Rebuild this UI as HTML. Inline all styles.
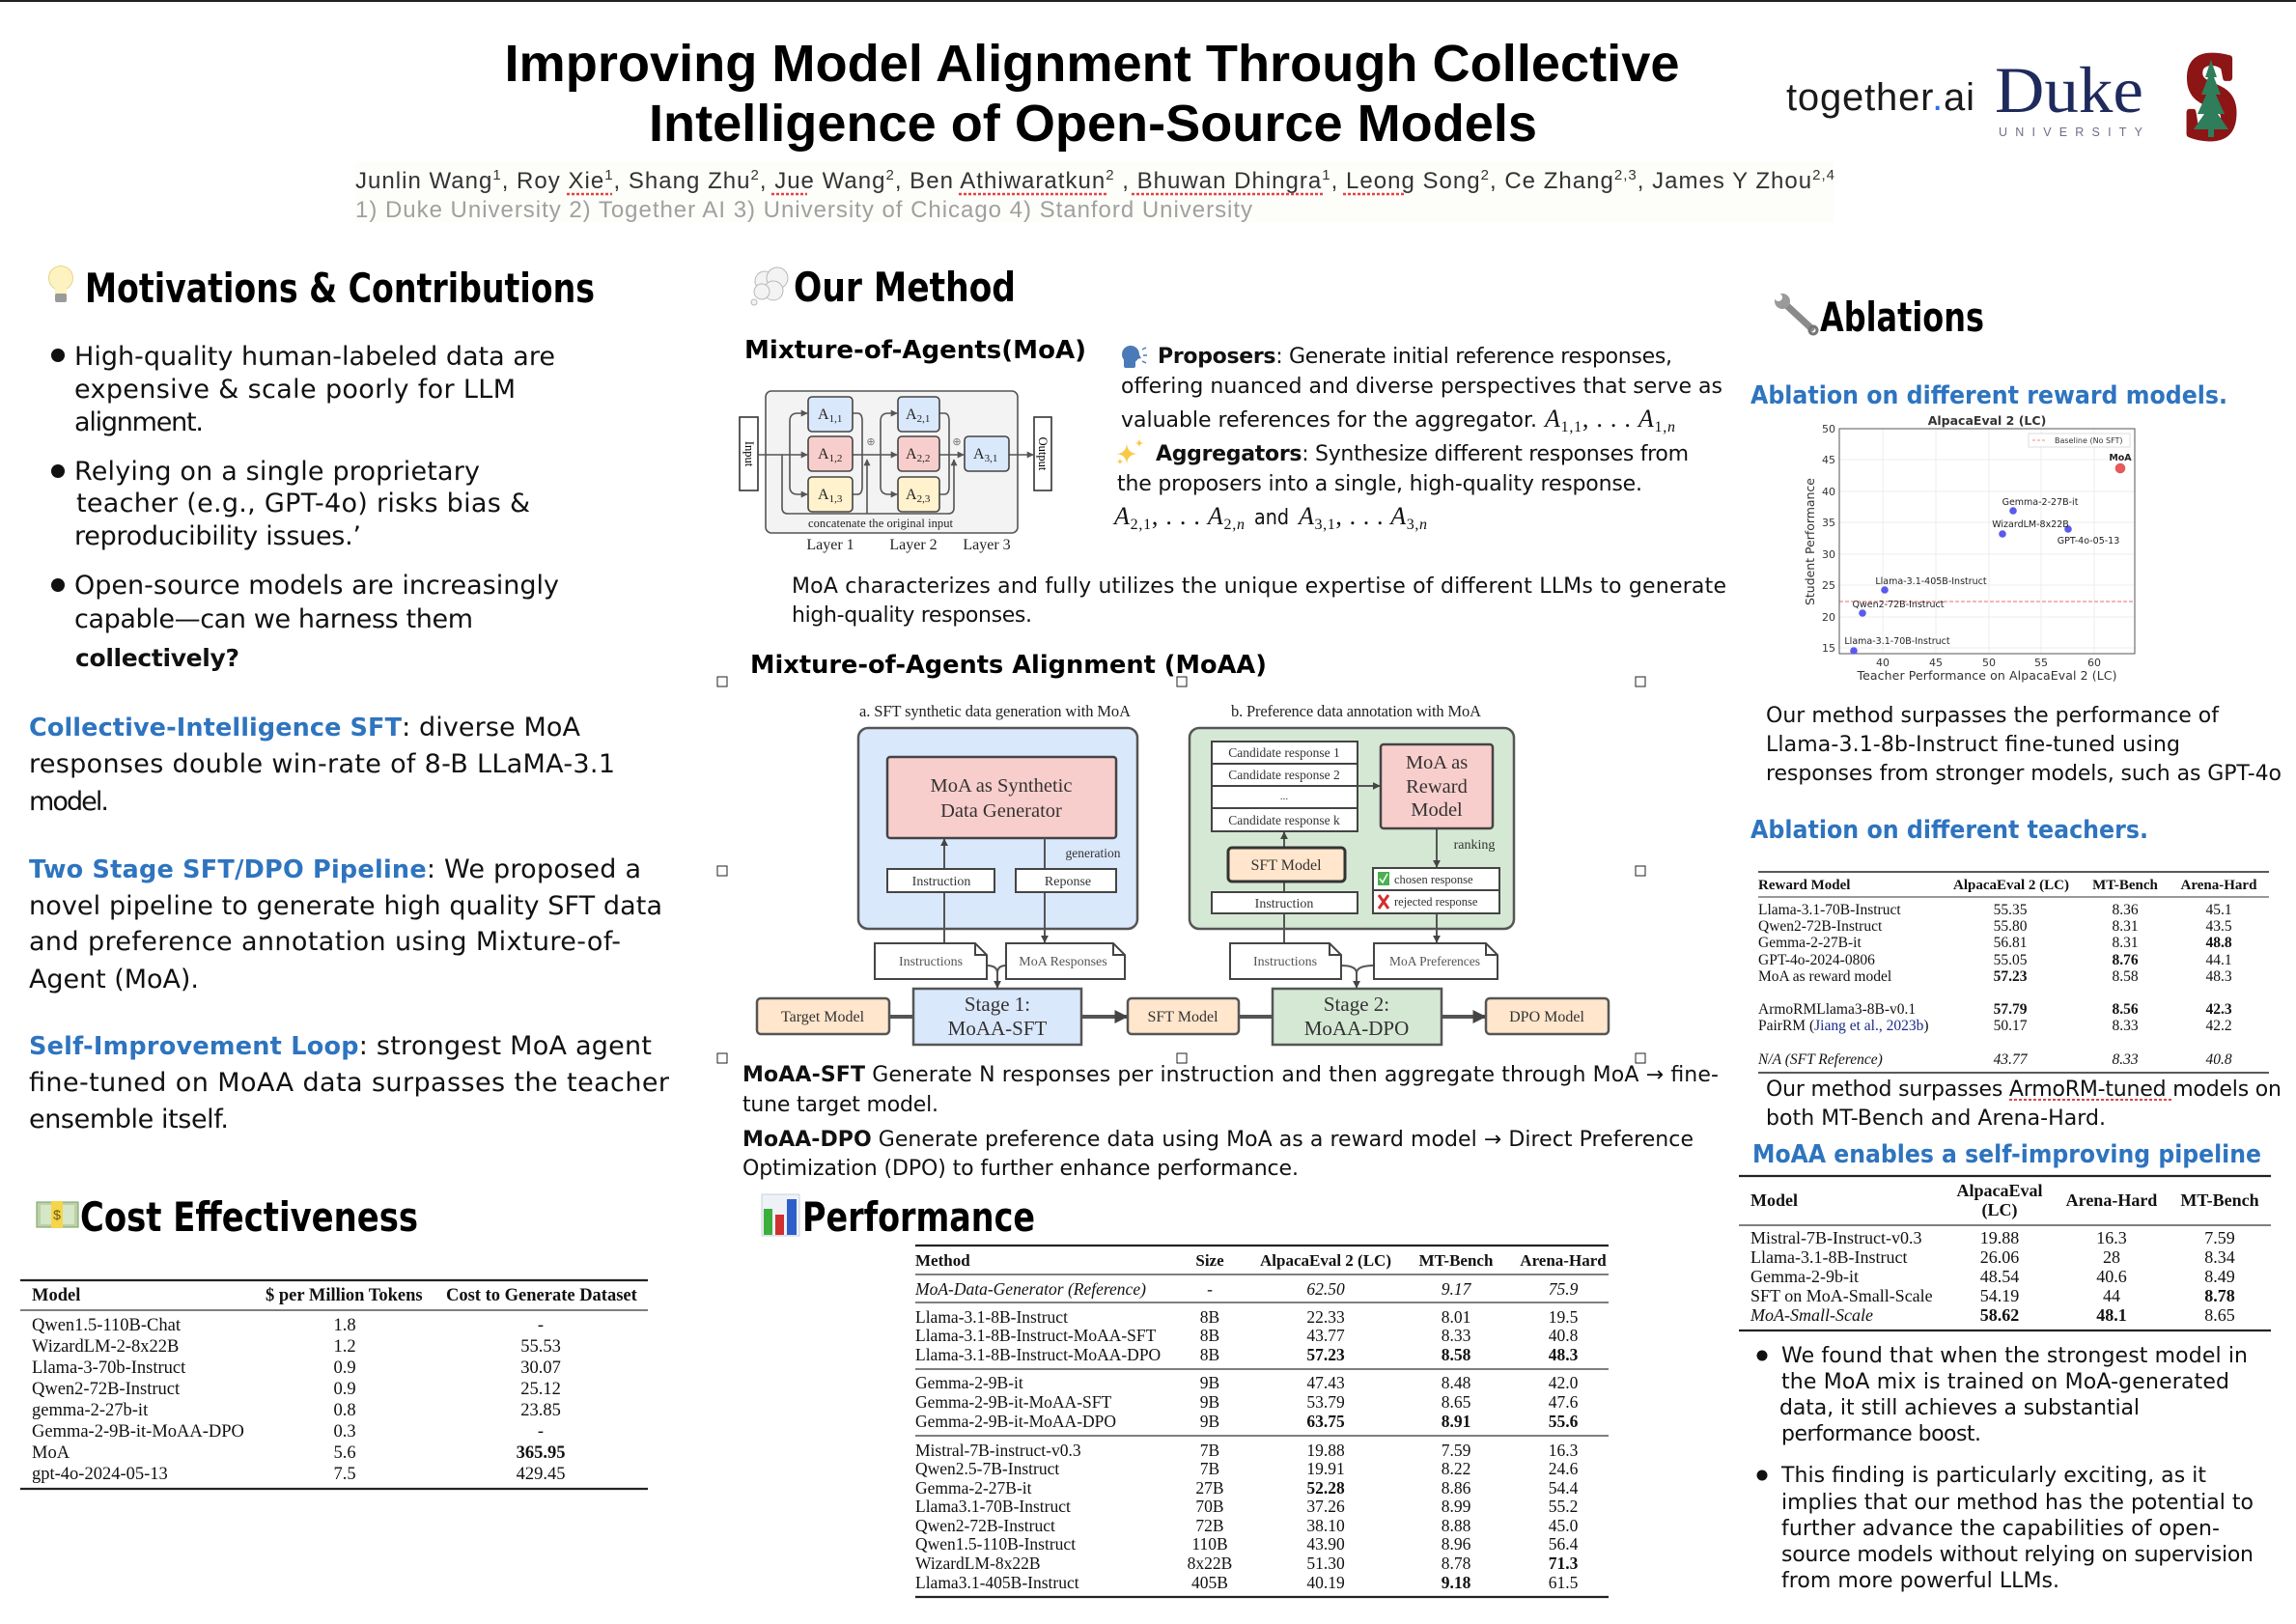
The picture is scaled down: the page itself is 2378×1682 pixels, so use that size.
<!DOCTYPE html>
<html><head><meta charset="utf-8">
<style>
html,body{margin:0;padding:0;background:#fff;}
body{width:2378px;height:1682px;overflow:hidden;position:relative;}
svg{position:absolute;left:0;top:0;}
.c{font-family:"DejaVu Sans",sans-serif;}
.s{font-family:"Liberation Serif",serif;}
.a{font-family:"Liberation Sans",sans-serif;}
</style></head><body>
<svg width="2378" height="1682" viewBox="0 0 2378 1682" xmlns="http://www.w3.org/2000/svg">
<defs>
<marker id="ar" viewBox="0 0 10 10" refX="9" refY="5" markerWidth="8" markerHeight="8" markerUnits="userSpaceOnUse" orient="auto"><path d="M0,0 L10,5 L0,10 z" fill="#444"/></marker>
<marker id="arb" viewBox="0 0 10 10" refX="9" refY="5" markerWidth="14" markerHeight="14" markerUnits="userSpaceOnUse" orient="auto"><path d="M0,0 L10,5 L0,10 z" fill="#444"/></marker>
<marker id="ars" viewBox="0 0 10 10" refX="9" refY="5" markerWidth="7" markerHeight="7" markerUnits="userSpaceOnUse" orient="auto"><path d="M0,0 L10,5 L0,10 z" fill="#555"/></marker>
</defs>

<rect x="0" y="0" width="2378" height="2" fill="#222"/>

<!-- HEADER -->
<rect x="368" y="168" width="1532" height="62" fill="#fdfdfa"/>
<text class="a" font-weight="bold" font-size="54" x="1131" y="84" text-anchor="middle" textLength="1217" lengthAdjust="spacingAndGlyphs">Improving Model Alignment Through Collective</text>
<text class="a" font-weight="bold" font-size="54" x="1132" y="146" text-anchor="middle" textLength="920" lengthAdjust="spacingAndGlyphs">Intelligence of Open-Source Models</text>
<text class="a" x="368" y="195" font-size="24" fill="#333" textLength="1532">Junlin Wang<tspan font-size="15" dy="-9">1</tspan><tspan dy="9">, Roy Xie</tspan><tspan font-size="15" dy="-9">1</tspan><tspan dy="9">, Shang Zhu</tspan><tspan font-size="15" dy="-9">2</tspan><tspan dy="9">, Jue Wang</tspan><tspan font-size="15" dy="-9">2</tspan><tspan dy="9">, Ben Athiwaratkun</tspan><tspan font-size="15" dy="-9">2</tspan><tspan dy="9"> , Bhuwan Dhingra</tspan><tspan font-size="15" dy="-9">1</tspan><tspan dy="9">, Leong Song</tspan><tspan font-size="15" dy="-9">2</tspan><tspan dy="9">, Ce Zhang</tspan><tspan font-size="15" dy="-9">2,3</tspan><tspan dy="9">, James Y Zhou</tspan><tspan font-size="15" dy="-9">2,4</tspan></text>
<g stroke="#e04444" stroke-width="2.5" stroke-dasharray="3,2">
<line x1="587" x2="634" y1="201" y2="201"/><line x1="799" x2="836" y1="201" y2="201"/><line x1="993" x2="1148" y1="201" y2="201"/><line x1="1172" x2="1372" y1="201" y2="201"/><line x1="1391" x2="1456" y1="201" y2="201"/>
</g>
<text class="a" x="368" y="225" font-size="24" fill="#a0a0a0" textLength="929">1) Duke University 2) Together AI 3) University of Chicago 4) Stanford University</text>

<!-- logos -->
<text class="a" x="1850" y="114" font-size="40" fill="#1a1a1a" textLength="195">together<tspan fill="#2f6ff0">.</tspan>ai</text>
<text class="s" x="2066" y="116" font-size="68" fill="#1f2a5c" textLength="154" lengthAdjust="spacingAndGlyphs">Duke</text>
<text class="a" x="2070" y="141" font-size="12.5" fill="#6b7088" textLength="149">UNIVERSITY</text>
<text class="s" font-weight="bold" x="2262" y="142" font-size="126" fill="#8c1515" stroke="#8c1515" stroke-width="7" stroke-linejoin="round" textLength="56" lengthAdjust="spacingAndGlyphs">S</text>
<polygon points="2290,62 2284,80 2287,80 2280,98 2285,98 2276,118 2283,118 2272,134 2287,134 2287,142 2293,142 2293,134 2308,134 2297,118 2304,118 2295,98 2300,98 2293,80 2296,80" fill="#2e7d5b"/>

<!-- LEFT COLUMN -->
<circle cx="63" cy="288" r="12.5" fill="#fdf3c0" stroke="#e6d58a"/>
<rect x="57" y="297" width="12" height="8" fill="#fdf3c0"/>
<rect x="57" y="304" width="12" height="9" rx="2" fill="#9a9a9a"/>
<text class="c" font-weight="bold" font-size="42" x="88" y="313" textLength="528" lengthAdjust="spacingAndGlyphs">Motivations &amp; Contributions</text>

<g class="c" font-size="27" fill="#111">
<circle cx="60" cy="368" r="7" fill="#111"/>
<text x="77" y="378" textLength="498">High-quality human-labeled data are</text>
<text x="77" y="412" textLength="457">expensive &amp; scale poorly for LLM</text>
<text x="77" y="446" textLength="134">alignment.</text>
<circle cx="60" cy="488" r="7" fill="#111"/>
<text x="77" y="497" textLength="420">Relying on a single proprietary</text>
<text x="79" y="530" textLength="470">teacher (e.g., GPT-4o) risks bias &amp;</text>
<text x="77" y="564" textLength="297">reproducibility issues.’</text>
<circle cx="60" cy="606" r="7" fill="#111"/>
<text x="77" y="615" textLength="502">Open-source models are increasingly</text>
<text x="77" y="650" textLength="413">capable—can we harness them</text>
<text x="78" y="690" font-weight="bold" font-size="25" textLength="170">collectively?</text>

<text x="30" y="762" textLength="571"><tspan font-weight="bold" font-size="25.5" fill="#2e74bf">Collective-Intelligence SFT</tspan>: diverse MoA</text>
<text x="30" y="800" textLength="607">responses double win-rate of 8-B LLaMA-3.1</text>
<text x="30" y="839" textLength="83">model.</text>

<text x="30" y="909" textLength="634"><tspan font-weight="bold" font-size="25.5" fill="#2e74bf">Two Stage SFT/DPO Pipeline</tspan>: We proposed a</text>
<text x="30" y="947" textLength="656">novel pipeline to generate high quality SFT data</text>
<text x="30" y="984" textLength="613">and preference annotation using Mixture-of-</text>
<text x="30" y="1023" textLength="176">Agent (MoA).</text>

<text x="30" y="1092" textLength="645"><tspan font-weight="bold" font-size="25.5" fill="#2e74bf">Self-Improvement Loop</tspan>: strongest MoA agent</text>
<text x="30" y="1130" textLength="663">fine-tuned on MoAA data surpasses the teacher</text>
<text x="30" y="1168" textLength="207">ensemble itself.</text>
</g>

<!-- Cost -->
<rect x="38" y="1245" width="43" height="26" fill="#b9d3a6" stroke="#7a9a6a"/>
<rect x="42" y="1248" width="35" height="20" fill="#d6e6c8"/>
<rect x="53" y="1244" width="12" height="28" fill="#f5d54a"/>
<text class="a" x="59" y="1263" font-size="14" text-anchor="middle" fill="#6a5a10">$</text>
<text class="c" font-weight="bold" font-size="42" x="83" y="1275" textLength="350" lengthAdjust="spacingAndGlyphs">Cost Effectiveness</text>

<g class="s" font-size="18.5" fill="#111">
<line x1="21" x2="671" y1="1326" y2="1326" stroke="#222" stroke-width="2.2"/>
<text x="33" y="1347" font-weight="bold">Model</text>
<text x="275" y="1347" font-weight="bold">$ per Million Tokens</text>
<text x="462" y="1347" font-weight="bold">Cost to Generate Dataset</text>
<line x1="21" x2="671" y1="1357" y2="1357" stroke="#333" stroke-width="1.3"/>
<text x="33" y="1378">Qwen1.5-110B-Chat</text><text x="357" y="1378" text-anchor="middle">1.8</text><text x="560" y="1378" text-anchor="middle">-</text>
<text x="33" y="1400">WizardLM-2-8x22B</text><text x="357" y="1400" text-anchor="middle">1.2</text><text x="560" y="1400" text-anchor="middle">55.53</text>
<text x="33" y="1422">Llama-3-70b-Instruct</text><text x="357" y="1422" text-anchor="middle">0.9</text><text x="560" y="1422" text-anchor="middle">30.07</text>
<text x="33" y="1444">Qwen2-72B-Instruct</text><text x="357" y="1444" text-anchor="middle">0.9</text><text x="560" y="1444" text-anchor="middle">25.12</text>
<text x="33" y="1466">gemma-2-27b-it</text><text x="357" y="1466" text-anchor="middle">0.8</text><text x="560" y="1466" text-anchor="middle">23.85</text>
<text x="33" y="1488">Gemma-2-9B-it-MoAA-DPO</text><text x="357" y="1488" text-anchor="middle">0.3</text><text x="560" y="1488" text-anchor="middle">-</text>
<text x="33" y="1510">MoA</text><text x="357" y="1510" text-anchor="middle">5.6</text><text x="560" y="1510" text-anchor="middle" font-weight="bold">365.95</text>
<text x="33" y="1532">gpt-4o-2024-05-13</text><text x="357" y="1532" text-anchor="middle">7.5</text><text x="560" y="1532" text-anchor="middle">429.45</text>
<line x1="21" x2="671" y1="1542" y2="1542" stroke="#222" stroke-width="2.2"/>
</g>

<!-- MIDDLE COLUMN -->
<g fill="#f3f3f3" stroke="#b8b8b8" stroke-width="1">
<circle cx="792" cy="291" r="10"/><circle cx="805" cy="288" r="11"/><circle cx="801" cy="301" r="10"/><circle cx="789" cy="302" r="8"/><circle cx="781" cy="313" r="3"/>
</g>
<text class="c" font-weight="bold" font-size="42" x="822" y="312" textLength="230" lengthAdjust="spacingAndGlyphs">Our Method</text>
<text class="c" font-weight="bold" font-size="26" x="771" y="371" textLength="354" lengthAdjust="spacingAndGlyphs">Mixture-of-Agents(MoA)</text>

<!-- speaking head -->
<g fill="#4a7ab8">
<circle cx="1171" cy="367" r="9"/>
<rect x="1164" y="371" width="12" height="10" rx="2"/>
<polygon points="1178,364 1182,371 1177,372"/>
</g>
<g stroke="#4a7ab8" stroke-width="1.5"><line x1="1183" y1="362" x2="1187" y2="360"/><line x1="1184" y1="368" x2="1188" y2="368"/><line x1="1183" y1="374" x2="1187" y2="376"/></g>
<g class="c" font-size="22" fill="#111">
<text x="1199" y="376" textLength="533"><tspan font-weight="bold">Proposers</tspan>: Generate initial reference responses,</text>
<text x="1161" y="407" textLength="623">offering nuanced and diverse perspectives that serve as</text>
<text x="1161" y="442" textLength="431">valuable references for the aggregator.</text>
<text x="1197" y="477" textLength="552"><tspan font-weight="bold">Aggregators</tspan>: Synthesize different responses from</text>
<text x="1157" y="508" textLength="544">the proposers into a single, high-quality response.</text>
<text x="1299" y="543" textLength="36" lengthAdjust="spacingAndGlyphs">and</text>
<text x="820" y="614" textLength="968">MoA characterizes and fully utilizes the unique expertise of different LLMs to generate</text>
<text x="820" y="644" textLength="249">high-quality responses.</text>
</g>
<g fill="#f7c948">
<path d="M1167,458 Q1167,470 1179,470 Q1167,470 1167,482 Q1167,470 1155,470 Q1167,470 1167,458 Z"/>
<path d="M1180,454 Q1180,459 1185,459 Q1180,459 1180,464 Q1180,459 1175,459 Q1180,459 1180,454 Z"/>
<path d="M1160,474 Q1160,478 1164,478 Q1160,478 1160,482 Q1160,478 1156,478 Q1160,478 1160,474 Z"/>
</g>
<g class="s" font-size="26" fill="#111">
<text x="1600" y="442" textLength="135"><tspan font-style="italic">A</tspan><tspan font-size="16" dy="5">1,1</tspan><tspan dy="-5">, . . . </tspan><tspan font-style="italic">A</tspan><tspan font-size="16" dy="5">1,</tspan><tspan font-size="16" font-style="italic">n</tspan></text>
<text x="1154" y="543" textLength="135"><tspan font-style="italic">A</tspan><tspan font-size="16" dy="5">2,1</tspan><tspan dy="-5">, . . . </tspan><tspan font-style="italic">A</tspan><tspan font-size="16" dy="5">2,</tspan><tspan font-size="16" font-style="italic">n</tspan></text>
<text x="1345" y="543" textLength="133"><tspan font-style="italic">A</tspan><tspan font-size="16" dy="5">3,1</tspan><tspan dy="-5">, . . . </tspan><tspan font-style="italic">A</tspan><tspan font-size="16" dy="5">3,</tspan><tspan font-size="16" font-style="italic">n</tspan></text>
</g>

<!-- small MoA diagram -->
<rect x="793" y="405" width="261" height="147" rx="6" fill="#f3f3f3" stroke="#555" stroke-width="1.6"/>
<rect x="766" y="432" width="19" height="76" fill="#fff" stroke="#333" stroke-width="1.6"/>
<rect x="1071" y="432" width="18" height="76" fill="#fff" stroke="#333" stroke-width="1.6"/>
<text class="s" font-size="12.5" text-anchor="middle" transform="translate(772,470) rotate(90)">Input</text>
<text class="s" font-size="12.5" text-anchor="middle" transform="translate(1076,470) rotate(90)">Output</text>
<g stroke="#555" stroke-width="1.6" fill="none">
<line x1="785" y1="471" x2="836" y2="471" marker-end="url(#ars)"/>
<path d="M818,471 V436 Q818,428 826,428 H836" marker-end="url(#ars)"/>
<path d="M818,471 V504 Q818,512 826,512 H836" marker-end="url(#ars)"/>
<path d="M810,471 V526 Q810,532 816,532 H982 Q988,532 988,526 V476" marker-end="url(#ars)"/>
<line x1="898" y1="532" x2="898" y2="476" marker-end="url(#ars)"/>
<path d="M883,428 H888 Q893,428 893,436 V504 Q893,512 888,512 H883"/>
<line x1="883" y1="471" x2="929" y2="471" marker-end="url(#ars)"/>
<path d="M912,471 V436 Q912,428 920,428 H929" marker-end="url(#ars)"/>
<path d="M912,471 V504 Q912,512 920,512 H929" marker-end="url(#ars)"/>
<path d="M973,428 H978 Q983,428 983,436 V504 Q983,512 978,512 H973"/>
<line x1="973" y1="471" x2="998" y2="471" marker-end="url(#ars)"/>
<line x1="1045" y1="471" x2="1070" y2="471" marker-end="url(#ars)"/>
</g>
<g stroke="#444" stroke-width="1.6">
<rect x="837" y="411" width="46" height="36" rx="4" fill="#dae8fc"/>
<rect x="837" y="452" width="46" height="36" rx="4" fill="#f8cecc"/>
<rect x="837" y="494" width="46" height="36" rx="4" fill="#fff2cc"/>
<rect x="930" y="411" width="43" height="36" rx="4" fill="#dae8fc"/>
<rect x="930" y="452" width="43" height="36" rx="4" fill="#f8cecc"/>
<rect x="930" y="494" width="43" height="36" rx="4" fill="#fff2cc"/>
<rect x="999" y="452" width="46" height="36" rx="4" fill="#dae8fc"/>
</g>
<g class="s" font-size="16" fill="#222">
<text x="847" y="434">A<tspan font-size="11" dy="3">1,1</tspan></text>
<text x="847" y="475">A<tspan font-size="11" dy="3">1,2</tspan></text>
<text x="847" y="517">A<tspan font-size="11" dy="3">1,3</tspan></text>
<text x="938" y="434">A<tspan font-size="11" dy="3">2,1</tspan></text>
<text x="938" y="475">A<tspan font-size="11" dy="3">2,2</tspan></text>
<text x="938" y="517">A<tspan font-size="11" dy="3">2,3</tspan></text>
<text x="1008" y="475">A<tspan font-size="11" dy="3">3,1</tspan></text>
<text x="902" y="461" font-size="11" text-anchor="middle" fill="#777">⊕</text>
<text x="991" y="461" font-size="11" text-anchor="middle" fill="#777">⊕</text>
<text x="912" y="546" font-size="12.5" text-anchor="middle" textLength="150">concatenate the original input</text>
<text x="860" y="569" text-anchor="middle">Layer 1</text>
<text x="946" y="569" text-anchor="middle">Layer 2</text>
<text x="1022" y="569" text-anchor="middle">Layer 3</text>
</g>

<!-- MoAA -->
<text class="c" font-weight="bold" font-size="26" x="777" y="697" textLength="535" lengthAdjust="spacingAndGlyphs">Mixture-of-Agents Alignment (MoAA)</text>
<g fill="#fff" stroke="#222" stroke-width="1">
<rect x="743" y="701" width="10" height="10"/><rect x="1219" y="701" width="10" height="10"/><rect x="1694" y="701" width="10" height="10"/>
<rect x="743" y="897" width="10" height="10"/><rect x="1694" y="897" width="10" height="10"/>
<rect x="743" y="1091" width="10" height="10"/><rect x="1219" y="1091" width="10" height="10"/><rect x="1694" y="1091" width="10" height="10"/>
</g>

<g class="s" fill="#222">
<text x="890" y="742" font-size="16.5" textLength="281">a. SFT synthetic data generation with MoA</text>
<text x="1275" y="742" font-size="16.5" textLength="259">b. Preference data annotation with MoA</text>
</g>
<rect x="889" y="754" width="289" height="208" rx="10" fill="#dae8fc" stroke="#555" stroke-width="2.5"/>
<rect x="1232" y="754" width="336" height="208" rx="10" fill="#d5e8d4" stroke="#555" stroke-width="2.5"/>
<rect x="919" y="784" width="237" height="84" rx="3" fill="#f8cecc" stroke="#444" stroke-width="2.5"/>
<!-- lines (behind boxes) -->
<g stroke="#555" stroke-width="2" fill="none">
<line x1="978" y1="900" x2="978" y2="869" marker-end="url(#ar)"/>
<line x1="978" y1="924" x2="978" y2="977"/>
<line x1="1082" y1="868" x2="1082" y2="900"/>
<line x1="1082" y1="924" x2="1082" y2="976" marker-end="url(#ar)"/>
<line x1="1406" y1="814" x2="1429" y2="814" marker-end="url(#ar)"/>
<line x1="1488" y1="858" x2="1488" y2="898" marker-end="url(#ar)"/>
<line x1="1330" y1="878" x2="1330" y2="862" marker-end="url(#ar)"/>
<line x1="1330" y1="913" x2="1330" y2="924"/>
<line x1="1330" y1="946" x2="1330" y2="977"/>
<line x1="1488" y1="946" x2="1488" y2="976" marker-end="url(#ar)"/>
<path d="M1022,1000 Q1033,1000 1033,1008 M1042,1000 Q1033,1000 1033,1008"/>
<line x1="1033" y1="1008" x2="1033" y2="1023" marker-end="url(#ar)"/>
<path d="M1389,1000 Q1405,1000 1405,1008 M1423,1000 Q1405,1000 1405,1008"/>
<line x1="1405" y1="1008" x2="1405" y2="1023" marker-end="url(#ar)"/>
</g>
<g stroke="#444" stroke-width="2" fill="#fff">
<rect x="919" y="900" width="111" height="24"/>
<rect x="1052" y="900" width="104" height="24"/>
<rect x="1255" y="768" width="151" height="23"/>
<rect x="1255" y="791" width="151" height="23"/>
<rect x="1255" y="814" width="151" height="23"/>
<rect x="1255" y="837" width="151" height="24"/>
<rect x="1255" y="924" width="151" height="22"/>
<rect x="1422" y="899" width="131" height="23"/>
<rect x="1422" y="922" width="131" height="24"/>
</g>
<rect x="1430" y="771" width="116" height="87" rx="3" fill="#f8cecc" stroke="#444" stroke-width="2.5"/>
<rect x="1272" y="878" width="121" height="35" rx="4" fill="#ffe6cc" stroke="#333" stroke-width="3"/>
<g stroke="#555" stroke-width="4" fill="none">
<line x1="921" y1="1053" x2="946" y2="1053"/>
<line x1="1120" y1="1053" x2="1167" y2="1053" marker-end="url(#arb)"/>
<line x1="1283" y1="1053" x2="1318" y2="1053"/>
<line x1="1493" y1="1053" x2="1538" y2="1053" marker-end="url(#arb)"/>
</g>
<!-- docs -->
<g stroke="#444" stroke-width="2" fill="#fff">
<path d="M906,977 H1010 L1022,989 V1014 H906 Z"/><path d="M1010,977 V989 H1022" fill="none"/>
<path d="M1042,977 H1153 L1165,989 V1014 H1042 Z"/><path d="M1153,977 V989 H1165" fill="none"/>
<path d="M1274,977 H1377 L1389,989 V1014 H1274 Z"/><path d="M1377,977 V989 H1389" fill="none"/>
<path d="M1423,977 H1539 L1551,989 V1014 H1423 Z"/><path d="M1539,977 V989 H1551" fill="none"/>
</g>
<g stroke="#555" stroke-width="2.5">
<rect x="946" y="1024" width="174" height="58" fill="#dae8fc"/>
<rect x="1318" y="1024" width="175" height="58" fill="#d5e8d4"/>
<rect x="784" y="1034" width="137" height="37" rx="4" fill="#ffe6cc"/>
<rect x="1168" y="1034" width="115" height="37" rx="4" fill="#ffe6cc"/>
<rect x="1539" y="1034" width="127" height="37" rx="4" fill="#ffe6cc"/>
</g>
<rect x="1427" y="903" width="12" height="14" fill="#4caf50"/>
<path d="M1429,910 L1432,914 L1437,905" stroke="#fff" stroke-width="1.5" fill="none"/>
<path d="M1428,927 L1438,941 M1438,927 L1428,941" stroke="#d32f2f" stroke-width="3"/>
<g class="s" fill="#333" text-anchor="middle">
<text x="1037" y="820" font-size="20.5">MoA as Synthetic</text>
<text x="1037" y="846" font-size="20.5">Data Generator</text>
<text x="1132" y="888" font-size="13.5">generation</text>
<text x="975" y="917" font-size="14">Instruction</text>
<text x="1106" y="917" font-size="14">Reponse</text>
<text x="964" y="1000" font-size="14" fill="#555">Instructions</text>
<text x="1101" y="1000" font-size="14" fill="#555">MoA Responses</text>
<text x="1033" y="1047" font-size="21">Stage 1:</text>
<text x="1033" y="1072" font-size="21">MoAA-SFT</text>
<text x="852" y="1058" font-size="16">Target Model</text>
<text x="1225" y="1058" font-size="16">SFT Model</text>
<text x="1405" y="1047" font-size="21">Stage 2:</text>
<text x="1405" y="1072" font-size="21">MoAA-DPO</text>
<text x="1602" y="1058" font-size="16">DPO Model</text>
<text x="1330" y="784" font-size="13.5">Candidate response 1</text>
<text x="1330" y="807" font-size="13.5">Candidate response 2</text>
<text x="1330" y="828" font-size="11">...</text>
<text x="1330" y="854" font-size="13.5">Candidate response k</text>
<text x="1488" y="796" font-size="20.5">MoA as</text>
<text x="1488" y="821" font-size="20.5">Reward</text>
<text x="1488" y="845" font-size="20.5">Model</text>
<text x="1527" y="879" font-size="14">ranking</text>
<text x="1332" y="901" font-size="16">SFT Model</text>
<text x="1330" y="940" font-size="14">Instruction</text>
<text x="1331" y="1000" font-size="14" fill="#555">Instructions</text>
<text x="1486" y="1000" font-size="13.5" fill="#555">MoA Preferences</text>
</g>
<g class="s" fill="#333" font-size="12.5">
<text x="1444" y="915">chosen response</text>
<text x="1444" y="938">rejected response</text>
</g>

<g class="c" font-size="22" fill="#111">
<text x="769" y="1120" textLength="1011"><tspan font-weight="bold">MoAA-SFT</tspan> Generate N responses per instruction and then aggregate through MoA → fine-</text>
<text x="769" y="1151" textLength="203">tune target model.</text>
<text x="769" y="1187" textLength="985"><tspan font-weight="bold">MoAA-DPO</tspan> Generate preference data using MoA as a reward model → Direct Preference</text>
<text x="769" y="1217" textLength="576">Optimization (DPO) to further enhance performance.</text>
</g>

<!-- Performance -->
<rect x="789" y="1237" width="39" height="43" fill="#eef2f7" stroke="#c8d0dc"/>
<rect x="791" y="1252" width="9" height="27" fill="#3cae3c"/>
<rect x="803" y="1258" width="9" height="21" fill="#d03030"/>
<rect x="815" y="1242" width="10" height="37" fill="#2d5fc8"/>
<text class="c" font-weight="bold" font-size="42" x="831" y="1275" textLength="241" lengthAdjust="spacingAndGlyphs">Performance</text>

<g class="s" font-size="17.5" fill="#111">
<line x1="948" x2="1666" y1="1290" y2="1290" stroke="#222" stroke-width="2.2"/>
<g font-weight="bold" font-size="17">
<text x="948" y="1311">Method</text>
<text x="1253" y="1311" text-anchor="middle">Size</text>
<text x="1373" y="1311" text-anchor="middle">AlpacaEval 2 (LC)</text>
<text x="1508" y="1311" text-anchor="middle">MT-Bench</text>
<text x="1619" y="1311" text-anchor="middle">Arena-Hard</text>
</g>
<line x1="948" x2="1666" y1="1320" y2="1320" stroke="#333" stroke-width="1.3"/>
<g font-style="italic"><text x="948" y="1341">MoA-Data-Generator (Reference)</text><text x="1253" y="1341" text-anchor="middle">-</text><text x="1373" y="1341" text-anchor="middle">62.50</text><text x="1508" y="1341" text-anchor="middle">9.17</text><text x="1619" y="1341" text-anchor="middle">75.9</text></g>
<line x1="948" x2="1666" y1="1349" y2="1349" stroke="#333" stroke-width="1.3"/>
<text x="948" y="1370">Llama-3.1-8B-Instruct</text><text x="1253" y="1370" text-anchor="middle">8B</text><text x="1373" y="1370" text-anchor="middle">22.33</text><text x="1508" y="1370" text-anchor="middle">8.01</text><text x="1619" y="1370" text-anchor="middle">19.5</text>
<text x="948" y="1389">Llama-3.1-8B-Instruct-MoAA-SFT</text><text x="1253" y="1389" text-anchor="middle">8B</text><text x="1373" y="1389" text-anchor="middle">43.77</text><text x="1508" y="1389" text-anchor="middle">8.33</text><text x="1619" y="1389" text-anchor="middle">40.8</text>
<text x="948" y="1409">Llama-3.1-8B-Instruct-MoAA-DPO</text><text x="1253" y="1409" text-anchor="middle">8B</text><text x="1373" y="1409" text-anchor="middle" font-weight="bold">57.23</text><text x="1508" y="1409" text-anchor="middle" font-weight="bold">8.58</text><text x="1619" y="1409" text-anchor="middle" font-weight="bold">48.3</text>
<line x1="948" x2="1666" y1="1418" y2="1418" stroke="#333" stroke-width="1.3"/>
<text x="948" y="1438">Gemma-2-9B-it</text><text x="1253" y="1438" text-anchor="middle">9B</text><text x="1373" y="1438" text-anchor="middle">47.43</text><text x="1508" y="1438" text-anchor="middle">8.48</text><text x="1619" y="1438" text-anchor="middle">42.0</text>
<text x="948" y="1458">Gemma-2-9B-it-MoAA-SFT</text><text x="1253" y="1458" text-anchor="middle">9B</text><text x="1373" y="1458" text-anchor="middle">53.79</text><text x="1508" y="1458" text-anchor="middle">8.65</text><text x="1619" y="1458" text-anchor="middle">47.6</text>
<text x="948" y="1478">Gemma-2-9B-it-MoAA-DPO</text><text x="1253" y="1478" text-anchor="middle">9B</text><text x="1373" y="1478" text-anchor="middle" font-weight="bold">63.75</text><text x="1508" y="1478" text-anchor="middle" font-weight="bold">8.91</text><text x="1619" y="1478" text-anchor="middle" font-weight="bold">55.6</text>
<line x1="948" x2="1666" y1="1487" y2="1487" stroke="#333" stroke-width="1.3"/>
<text x="948" y="1508">Mistral-7B-instruct-v0.3</text><text x="1253" y="1508" text-anchor="middle">7B</text><text x="1373" y="1508" text-anchor="middle">19.88</text><text x="1508" y="1508" text-anchor="middle">7.59</text><text x="1619" y="1508" text-anchor="middle">16.3</text>
<text x="948" y="1527">Qwen2.5-7B-Instruct</text><text x="1253" y="1527" text-anchor="middle">7B</text><text x="1373" y="1527" text-anchor="middle">19.91</text><text x="1508" y="1527" text-anchor="middle">8.22</text><text x="1619" y="1527" text-anchor="middle">24.6</text>
<text x="948" y="1547">Gemma-2-27B-it</text><text x="1253" y="1547" text-anchor="middle">27B</text><text x="1373" y="1547" text-anchor="middle" font-weight="bold">52.28</text><text x="1508" y="1547" text-anchor="middle">8.86</text><text x="1619" y="1547" text-anchor="middle">54.4</text>
<text x="948" y="1566">Llama3.1-70B-Instruct</text><text x="1253" y="1566" text-anchor="middle">70B</text><text x="1373" y="1566" text-anchor="middle">37.26</text><text x="1508" y="1566" text-anchor="middle">8.99</text><text x="1619" y="1566" text-anchor="middle">55.2</text>
<text x="948" y="1586">Qwen2-72B-Instruct</text><text x="1253" y="1586" text-anchor="middle">72B</text><text x="1373" y="1586" text-anchor="middle">38.10</text><text x="1508" y="1586" text-anchor="middle">8.88</text><text x="1619" y="1586" text-anchor="middle">45.0</text>
<text x="948" y="1605">Qwen1.5-110B-Instruct</text><text x="1253" y="1605" text-anchor="middle">110B</text><text x="1373" y="1605" text-anchor="middle">43.90</text><text x="1508" y="1605" text-anchor="middle">8.96</text><text x="1619" y="1605" text-anchor="middle">56.4</text>
<text x="948" y="1625">WizardLM-8x22B</text><text x="1253" y="1625" text-anchor="middle">8x22B</text><text x="1373" y="1625" text-anchor="middle">51.30</text><text x="1508" y="1625" text-anchor="middle">8.78</text><text x="1619" y="1625" text-anchor="middle" font-weight="bold">71.3</text>
<text x="948" y="1645">Llama3.1-405B-Instruct</text><text x="1253" y="1645" text-anchor="middle">405B</text><text x="1373" y="1645" text-anchor="middle">40.19</text><text x="1508" y="1645" text-anchor="middle" font-weight="bold">9.18</text><text x="1619" y="1645" text-anchor="middle">61.5</text>
<line x1="948" x2="1666" y1="1654" y2="1654" stroke="#222" stroke-width="2.2"/>
</g>

<!-- RIGHT COLUMN -->
<g>
<line x1="1848" y1="314" x2="1876" y2="340" stroke="#8a8a8a" stroke-width="7" stroke-linecap="round"/>
<circle cx="1846" cy="312" r="8" fill="#9a9a9a"/>
<circle cx="1842" cy="308" r="4" fill="#fff"/>
<circle cx="1878" cy="342" r="4" fill="none" stroke="#777" stroke-width="3"/>
</g>
<text class="c" font-weight="bold" font-size="42" x="1885" y="343" textLength="170" lengthAdjust="spacingAndGlyphs">Ablations</text>
<text class="c" font-weight="bold" font-size="26" x="1813" y="418" fill="#2e74bf" textLength="494" lengthAdjust="spacingAndGlyphs">Ablation on different reward models.</text>

<!-- chart -->
<g stroke="#ececec" stroke-width="1">
<line x1="1950" x2="1950" y1="444" y2="677"/><line x1="2005" x2="2005" y1="444" y2="677"/><line x1="2060" x2="2060" y1="444" y2="677"/><line x1="2114" x2="2114" y1="444" y2="677"/><line x1="2169" x2="2169" y1="444" y2="677"/>
<line x1="1905" x2="2211" y1="476" y2="476"/><line x1="1905" x2="2211" y1="509" y2="509"/><line x1="1905" x2="2211" y1="541" y2="541"/><line x1="1905" x2="2211" y1="574" y2="574"/><line x1="1905" x2="2211" y1="606" y2="606"/><line x1="1905" x2="2211" y1="639" y2="639"/><line x1="1905" x2="2211" y1="671" y2="671"/>
</g>
<line x1="1905" x2="2211" y1="623" y2="623" stroke="#f08a8a" stroke-width="1.2" stroke-dasharray="4,2"/>
<rect x="1905" y="444" width="306" height="233" fill="none" stroke="#555" stroke-width="1"/>
<g class="c" font-size="11" fill="#333" text-anchor="end">
<text x="1901" y="448">50</text><text x="1901" y="480">45</text><text x="1901" y="513">40</text><text x="1901" y="545">35</text><text x="1901" y="578">30</text><text x="1901" y="610">25</text><text x="1901" y="643">20</text><text x="1901" y="675">15</text>
</g>
<g class="c" font-size="11" fill="#333" text-anchor="middle">
<text x="1950" y="690">40</text><text x="2005" y="690">45</text><text x="2060" y="690">50</text><text x="2114" y="690">55</text><text x="2169" y="690">60</text>
<text x="2058" y="704" font-size="12.5" textLength="269">Teacher Performance on AlpacaEval 2 (LC)</text>
<text x="2058" y="440" font-size="12.5" font-weight="bold">AlpacaEval 2 (LC)</text>
<text transform="translate(1879,561) rotate(-90)" font-size="12.5" textLength="132">Student Performance</text>
</g>
<rect x="2101" y="449" width="105" height="14" fill="#fff" stroke="#ddd"/>
<line x1="2105" x2="2120" y1="456" y2="456" stroke="#f08a8a" stroke-width="1" stroke-dasharray="3,2"/>
<text class="c" x="2128" y="459" font-size="8" fill="#333">Baseline (No SFT)</text>
<g fill="#5a5af0">
<circle cx="2085" cy="529" r="3.8"/><circle cx="2074" cy="553" r="3.8"/><circle cx="2142" cy="548" r="3.8"/><circle cx="1952" cy="611" r="3.8"/><circle cx="1929" cy="635" r="3.8"/><circle cx="1920" cy="674" r="3.8"/>
</g>
<circle cx="2196" cy="485" r="5.3" fill="#e55a5a"/>
<g class="c" font-size="9.5" fill="#222" text-anchor="middle">
<text x="2196" y="477" font-weight="bold">MoA</text>
<text x="2113" y="523">Gemma-2-27B-it</text>
<text x="2103" y="546">WizardLM-8x22B</text>
<text x="2163" y="563">GPT-4o-05-13</text>
<text x="2000" y="605">Llama-3.1-405B-Instruct</text>
<text x="1966" y="629">Qwen2-72B-Instruct</text>
<text x="1965" y="667">Llama-3.1-70B-Instruct</text>
</g>

<g class="c" font-size="22" fill="#111">
<text x="1829" y="748" textLength="469">Our method surpasses the performance of</text>
<text x="1829" y="778" textLength="429">Llama-3.1-8b-Instruct fine-tuned using</text>
<text x="1829" y="808" textLength="534">responses from stronger models, such as GPT-4o</text>
</g>
<text class="c" font-weight="bold" font-size="26" x="1813" y="868" fill="#2e74bf" textLength="412" lengthAdjust="spacingAndGlyphs">Ablation on different teachers.</text>

<g class="s" font-size="15.5" fill="#111">
<line x1="1821" x2="2350" y1="903" y2="903" stroke="#222" stroke-width="1.6"/>
<g font-weight="bold" font-size="15">
<text x="1821" y="921">Reward Model</text>
<text x="2083" y="921" text-anchor="middle">AlpacaEval 2 (LC)</text>
<text x="2201" y="921" text-anchor="middle">MT-Bench</text>
<text x="2298" y="921" text-anchor="middle">Arena-Hard</text>
</g>
<line x1="1821" x2="2350" y1="929" y2="929" stroke="#333" stroke-width="1"/>
<text x="1821" y="947">Llama-3.1-70B-Instruct</text><text x="2082" y="947" text-anchor="middle">55.35</text><text x="2201" y="947" text-anchor="middle">8.36</text><text x="2298" y="947" text-anchor="middle">45.1</text>
<text x="1821" y="964">Qwen2-72B-Instruct</text><text x="2082" y="964" text-anchor="middle">55.80</text><text x="2201" y="964" text-anchor="middle">8.31</text><text x="2298" y="964" text-anchor="middle">43.5</text>
<text x="1821" y="981">Gemma-2-27B-it</text><text x="2082" y="981" text-anchor="middle">56.81</text><text x="2201" y="981" text-anchor="middle">8.31</text><text x="2298" y="981" text-anchor="middle" font-weight="bold">48.8</text>
<text x="1821" y="999">GPT-4o-2024-0806</text><text x="2082" y="999" text-anchor="middle">55.05</text><text x="2201" y="999" text-anchor="middle" font-weight="bold">8.76</text><text x="2298" y="999" text-anchor="middle">44.1</text>
<text x="1821" y="1016">MoA as reward model</text><text x="2082" y="1016" text-anchor="middle" font-weight="bold">57.23</text><text x="2201" y="1016" text-anchor="middle">8.58</text><text x="2298" y="1016" text-anchor="middle">48.3</text>
<text x="1821" y="1050">ArmoRMLlama3-8B-v0.1</text><text x="2082" y="1050" text-anchor="middle" font-weight="bold">57.79</text><text x="2201" y="1050" text-anchor="middle" font-weight="bold">8.56</text><text x="2298" y="1050" text-anchor="middle" font-weight="bold">42.3</text>
<text x="1821" y="1067">PairRM (<tspan fill="#1a2a8a">Jiang et al., 2023b</tspan>)</text><text x="2082" y="1067" text-anchor="middle">50.17</text><text x="2201" y="1067" text-anchor="middle">8.33</text><text x="2298" y="1067" text-anchor="middle">42.2</text>
<g font-style="italic"><text x="1821" y="1102">N/A (SFT Reference)</text><text x="2082" y="1102" text-anchor="middle">43.77</text><text x="2201" y="1102" text-anchor="middle">8.33</text><text x="2298" y="1102" text-anchor="middle">40.8</text></g>
<line x1="1821" x2="2350" y1="1111" y2="1111" stroke="#222" stroke-width="1.6"/>
</g>

<g class="c" font-size="22" fill="#111">
<text x="1829" y="1135" textLength="534">Our method surpasses ArmoRM-tuned models on</text>
<text x="1829" y="1165" textLength="352">both MT-Bench and Arena-Hard.</text>
</g>
<line x1="2081" x2="2249" y1="1139" y2="1139" stroke="#e04444" stroke-width="2" stroke-dasharray="3,2"/>
<text class="c" font-weight="bold" font-size="26" x="1815" y="1204" fill="#2e74bf" textLength="527" lengthAdjust="spacingAndGlyphs">MoAA enables a self-improving pipeline</text>

<g class="s" font-size="18" fill="#111">
<line x1="1801" x2="2352" y1="1218" y2="1218" stroke="#222" stroke-width="2.2"/>
<g font-weight="bold">
<text x="1813" y="1249">Model</text>
<text x="2071" y="1239" text-anchor="middle">AlpacaEval</text>
<text x="2071" y="1259" text-anchor="middle">(LC)</text>
<text x="2187" y="1249" text-anchor="middle">Arena-Hard</text>
<text x="2299" y="1249" text-anchor="middle">MT-Bench</text>
</g>
<line x1="1801" x2="2352" y1="1269" y2="1269" stroke="#333" stroke-width="1.3"/>
<text x="1813" y="1288">Mistral-7B-Instruct-v0.3</text><text x="2071" y="1288" text-anchor="middle">19.88</text><text x="2187" y="1288" text-anchor="middle">16.3</text><text x="2299" y="1288" text-anchor="middle">7.59</text>
<text x="1813" y="1308">Llama-3.1-8B-Instruct</text><text x="2071" y="1308" text-anchor="middle">26.06</text><text x="2187" y="1308" text-anchor="middle">28</text><text x="2299" y="1308" text-anchor="middle">8.34</text>
<text x="1813" y="1328">Gemma-2-9b-it</text><text x="2071" y="1328" text-anchor="middle">48.54</text><text x="2187" y="1328" text-anchor="middle">40.6</text><text x="2299" y="1328" text-anchor="middle">8.49</text>
<text x="1813" y="1348">SFT on MoA-Small-Scale</text><text x="2071" y="1348" text-anchor="middle">54.19</text><text x="2187" y="1348" text-anchor="middle">44</text><text x="2299" y="1348" text-anchor="middle" font-weight="bold">8.78</text>
<text x="1813" y="1368" font-style="italic">MoA-Small-Scale</text><text x="2071" y="1368" text-anchor="middle" font-weight="bold">58.62</text><text x="2187" y="1368" text-anchor="middle" font-weight="bold">48.1</text><text x="2299" y="1368" text-anchor="middle">8.65</text>
<line x1="1801" x2="2352" y1="1378" y2="1378" stroke="#222" stroke-width="2.2"/>
</g>

<g class="c" font-size="22" fill="#111">
<circle cx="1825" cy="1404" r="5.5" fill="#111"/>
<text x="1845" y="1411" textLength="483">We found that when the strongest model in</text>
<text x="1845" y="1438" textLength="464">the MoA mix is trained on MoA-generated</text>
<text x="1843" y="1465" textLength="373">data, it still achieves a substantial</text>
<text x="1845" y="1492" textLength="207">performance boost.</text>
<circle cx="1825" cy="1528" r="5.5" fill="#111"/>
<text x="1845" y="1535" textLength="440">This finding is particularly exciting, as it</text>
<text x="1845" y="1563" textLength="489">implies that our method has the potential to</text>
<text x="1845" y="1590" textLength="454">further advance the capabilities of open-</text>
<text x="1845" y="1617" textLength="489">source models without relying on supervision</text>
<text x="1845" y="1644" textLength="288">from more powerful LLMs.</text>
</g>
</svg>
</body></html>
